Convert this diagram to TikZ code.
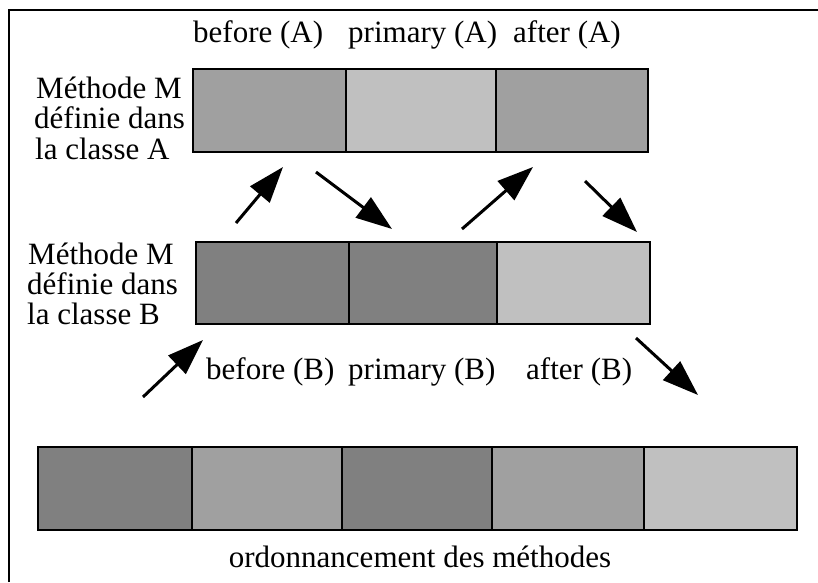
\documentclass[tikz,border=0pt]{standalone}
\usepackage{fontspec}
\setmainfont{Liberation Serif}
\usetikzlibrary{arrows.meta}
\definecolor{dk}{HTML}{808080}
\definecolor{md}{HTML}{A0A0A0}
\definecolor{lt}{HTML}{C0C0C0}
\tikzset{
  cell/.style={draw=black, line width=2pt, anchor=north west, inner sep=0pt, outer sep=0pt},
  lbl/.style={anchor=base west, inner sep=0pt, font=\fontsize{31}{32}\selectfont},
  flow/.style={line width=3pt, -{Triangle[length=36pt, width=25pt]}},
  frame/.style={line width=2.5pt}
}
\begin{document}
\begin{tikzpicture}[x=1pt, y=-1pt]
\useasboundingbox (0,0) rectangle (818,582);
\fill[white] (0,0) rectangle (818,582);
% frame
\coordinate (f1) at (9,582);
\coordinate (f2) at (9,10);
\coordinate (f3) at (818,10);
\draw[frame] (f1) -- (f2) -- (f3);

% row A
\node[cell, fill=md, minimum width=153pt, minimum height=83pt] (a1) at (193,69) {};
\node[cell, fill=lt, minimum width=150pt, minimum height=83pt] (a2) at (346,69) {};
\node[cell, fill=md, minimum width=152pt, minimum height=83pt] (a3) at (496,69) {};
% row B
\node[cell, fill=dk, minimum width=153pt, minimum height=82pt] (b1) at (196,242) {};
\node[cell, fill=dk, minimum width=148pt, minimum height=82pt] (b2) at (349,242) {};
\node[cell, fill=lt, minimum width=153pt, minimum height=82pt] (b3) at (497,242) {};
% row C
\node[cell, fill=dk, minimum width=154pt, minimum height=83pt] (c1) at (38,447) {};
\node[cell, fill=md, minimum width=150pt, minimum height=83pt] (c2) at (192,447) {};
\node[cell, fill=dk, minimum width=150pt, minimum height=83pt] (c3) at (342,447) {};
\node[cell, fill=md, minimum width=152pt, minimum height=83pt] (c4) at (492,447) {};
\node[cell, fill=lt, minimum width=153pt, minimum height=83pt] (c5) at (644,447) {};

% labels
\node[lbl] (tA1) at (193,42) {before (A)};
\node[lbl] (tA2) at (348,42) {primary (A)};
\node[lbl] (tA3) at (513,42) {after (A)};
\node[lbl] (mA1) at (36,98) {Méthode M};
\node[lbl] (mA2) at (34,128.5) {définie dans};
\node[lbl] (mA3) at (35,159) {la classe A};
\node[lbl] (mB1) at (28,264) {Méthode M};
\node[lbl] (mB2) at (27,294) {définie dans};
\node[lbl] (mB3) at (27,324) {la classe B};
\node[lbl] (tB1) at (206,379) {before (B)};
\node[lbl] (tB2) at (348,379) {primary (B)};
\node[lbl] (tB3) at (526,379) {after (B)};
\node[lbl, anchor=base] (ord) at (420,567) {ordonnancement des méthodes};

% arrows
\coordinate (p1s) at (236,223); \coordinate (p1e) at (283,167);
\coordinate (p2s) at (316,172); \coordinate (p2e) at (392,229);
\coordinate (p3s) at (462,229); \coordinate (p3e) at (533,167);
\coordinate (p4s) at (585,181); \coordinate (p4e) at (637,232);
\coordinate (p5s) at (143,397); \coordinate (p5e) at (203,340);
\coordinate (p6s) at (636,338); \coordinate (p6e) at (698,395);
\draw[flow] (p1s) -- (p1e);
\draw[flow] (p2s) -- (p2e);
\draw[flow] (p3s) -- (p3e);
\draw[flow] (p4s) -- (p4e);
\draw[flow] (p5s) -- (p5e);
\draw[flow] (p6s) -- (p6e);
\end{tikzpicture}
\end{document}
